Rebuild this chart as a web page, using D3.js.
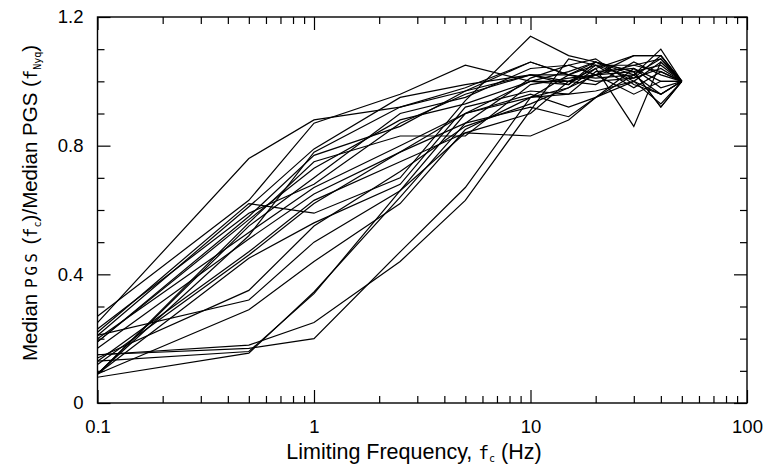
<!DOCTYPE html>
<html>
<head>
<meta charset="utf-8">
<script src="https://cdn.jsdelivr.net/npm/d3@7"></script>
<style>
	body { margin: 0; background: #fff; }
	svg { display: block; }
	text { font-family: "Liberation Sans", Arial, sans-serif; fill: #000; }
	.mono { font-family: "DejaVu Sans Mono", monospace; }
</style>
</head>
<body>
<svg id="chart" width="765" height="467"></svg>
<script>
"use strict";

// limiting frequencies (Hz) where every curve has a point
var freqs = [0.1, 0.5, 1, 2.5, 5, 10, 15, 20, 30, 40, 50];

// one ratio per frequency
var s01 = [0.25, 0.76, 0.88, 0.92, 0.97, 1.02, 1.02, 1.05, 0.98, 1.03, 1.00];
var s02 = [0.27, 0.63, 0.87, 0.96, 1.05, 1.00, 0.99, 1.06, 1.00, 0.96, 1.00];
var s03 = [0.22, 0.62, 0.59, 0.70, 0.94, 1.14, 1.08, 1.06, 1.03, 0.92, 1.00];
var s04 = [0.21, 0.61, 0.79, 0.95, 0.99, 1.02, 1.00, 1.04, 1.08, 1.08, 1.00];
var s05 = [0.19, 0.58, 0.77, 0.86, 0.97, 1.06, 1.02, 1.06, 1.02, 1.10, 1.00];
var s06 = [0.09, 0.56, 0.75, 0.83, 0.83, 0.99, 1.01, 1.02, 1.05, 1.07, 1.00];
var s07 = [0.09, 0.55, 0.70, 0.90, 0.95, 1.04, 1.05, 1.07, 0.99, 0.96, 1.00];
var s08 = [0.20, 0.53, 0.67, 0.80, 0.90, 0.95, 0.98, 1.02, 1.08, 1.08, 1.00];
var s09 = [0.17, 0.51, 0.65, 0.78, 0.87, 0.92, 0.89, 0.95, 1.02, 0.96, 1.00];
var s10 = [0.13, 0.47, 0.63, 0.75, 0.84, 0.83, 0.88, 0.95, 1.04, 1.00, 1.00];
var s11 = [0.09, 0.45, 0.56, 0.68, 0.92, 0.97, 0.96, 1.03, 1.04, 0.98, 1.00];
var s12 = [0.14, 0.35, 0.55, 0.72, 0.86, 0.93, 0.98, 1.04, 0.86, 1.06, 1.00];
var s13 = [0.21, 0.32, 0.50, 0.66, 0.84, 0.90, 1.00, 1.02, 1.03, 0.92, 1.00];
var s14 = [0.09, 0.29, 0.44, 0.62, 0.85, 0.95, 0.96, 0.97, 1.00, 1.06, 1.00];
var s15 = [0.15, 0.18, 0.25, 0.44, 0.63, 0.91, 1.07, 1.05, 1.01, 1.08, 1.00];
var s16 = [0.15, 0.17, 0.20, 0.47, 0.67, 0.95, 1.02, 1.00, 1.01, 1.04, 1.00];
var s17 = [0.13, 0.16, 0.34, 0.66, 0.90, 1.00, 1.00, 0.99, 1.06, 1.02, 1.00];
var s18 = [0.08, 0.155, 0.345, 0.64, 0.87, 1.01, 1.05, 1.02, 0.96, 1.00, 1.00];
var s19 = [0.23, 0.59, 0.68, 0.87, 0.96, 1.02, 0.99, 1.05, 1.05, 1.03, 1.00];
var s20 = [0.12, 0.46, 0.62, 0.78, 0.90, 0.96, 0.92, 0.95, 1.00, 0.93, 1.00];
var s21 = [0.09, 0.52, 0.78, 0.92, 0.98, 1.06, 1.02, 1.01, 1.02, 1.07, 1.00];
var s22 = [0.19, 0.57, 0.73, 0.88, 0.93, 1.00, 1.03, 1.06, 1.03, 1.05, 1.00];

var series = [s01,s02,s03,s04,s05,s06,s07,s08,s09,s10,s11,s12,s13,s14,s15,s16,s17,s18,s19,s20,s21,s22];

var xMajor = [0.1, 1, 10, 100];
var yMajor = [0, 0.4, 0.8, 1.2];
var yMinor = [0.1, 0.2, 0.3, 0.5, 0.6, 0.7, 0.9, 1.0, 1.1];

var padL = 97.5, padR = 747, padT = 17, padB = 403;
var bigTick = 13, smallTick = 7;

var svg = d3.select("#chart");

var x = d3.scaleLog().domain([0.1, 100]).range([padL, padR]);
var y = d3.scaleLinear().domain([0, 1.2]).range([padB, padT]);

// log minor ticks 2..9 in every decade
var xMinor = [];
[0.1, 1, 10].forEach(function(d){
	for (var k=2; k<10; k++) { xMinor.push(+(d*k).toPrecision(3)); }
});

// curves
var line = d3.line()
	.x(function(d,i){ return x(freqs[i]); })
	.y(function(d){ return y(d); });

svg.append("g")
	.attr("fill","none")
	.attr("stroke","#000")
	.attr("stroke-width",1.2)
	.attr("stroke-linejoin","miter")
	.selectAll("path")
	.data(series)
	.enter().append("path")
	.attr("d", line);

// frame
svg.append("rect")
	.attr("x",padL).attr("y",padT)
	.attr("width",padR-padL).attr("height",padB-padT)
	.attr("fill","none")
	.attr("stroke","#000")
	.attr("stroke-width",1.4);

function tidy(g) {
	g.select(".domain").remove();
	g.selectAll(".tick line").attr("stroke","#000").attr("stroke-width",1.2);
	g.selectAll(".tick text").attr("font-size",18.5).attr("font-family","Liberation Sans, Arial, sans-serif");
}

// bottom axis, ticks pointing inward
svg.append("g").attr("transform","translate(0,"+padB+")")
	.call(d3.axisBottom(x).tickValues(xMajor).tickFormat(d3.format("~g")).tickSize(-bigTick).tickPadding(17))
	.call(tidy);
svg.append("g").attr("transform","translate(0,"+padB+")")
	.call(d3.axisBottom(x).tickValues(xMinor).tickFormat("").tickSize(-smallTick))
	.call(tidy);
// top axis
svg.append("g").attr("transform","translate(0,"+padT+")")
	.call(d3.axisTop(x).tickValues(xMajor).tickFormat("").tickSize(-bigTick))
	.call(tidy);
svg.append("g").attr("transform","translate(0,"+padT+")")
	.call(d3.axisTop(x).tickValues(xMinor).tickFormat("").tickSize(-smallTick))
	.call(tidy);
// left axis
svg.append("g").attr("transform","translate("+padL+",0)")
	.call(d3.axisLeft(y).tickValues(yMajor).tickFormat(d3.format("~g")).tickSize(-bigTick).tickPadding(14))
	.call(tidy);
svg.append("g").attr("transform","translate("+padL+",0)")
	.call(d3.axisLeft(y).tickValues(yMinor).tickFormat("").tickSize(-smallTick))
	.call(tidy);
// right axis
svg.append("g").attr("transform","translate("+padR+",0)")
	.call(d3.axisRight(y).tickValues(yMajor).tickFormat("").tickSize(-bigTick))
	.call(tidy);
svg.append("g").attr("transform","translate("+padR+",0)")
	.call(d3.axisRight(y).tickValues(yMinor).tickFormat("").tickSize(-smallTick))
	.call(tidy);

// x title
var xt = svg.append("text")
	.attr("x",414).attr("y",459)
	.attr("text-anchor","middle")
	.attr("font-size",21.5);
xt.append("tspan").text("Limiting Frequency, ");
xt.append("tspan").attr("class","mono").attr("font-size",18).text("f");
xt.append("tspan").attr("class","mono").attr("font-size",10).attr("dy",3).text("c");
xt.append("tspan").attr("dy",-3).text(" (Hz)");

// y title
var yt = svg.append("text")
	.attr("transform","translate(37,203) rotate(-90)")
	.attr("text-anchor","middle")
	.attr("font-size",20.5);
yt.append("tspan").text("Median ");
yt.append("tspan").attr("class","mono").attr("font-size",16).attr("letter-spacing",3).text("PGS");
yt.append("tspan").text(" (");
yt.append("tspan").attr("class","mono").attr("font-size",17).text("f");
yt.append("tspan").attr("class","mono").attr("font-size",10).attr("dy",4).text("c");
yt.append("tspan").attr("dy",-4).text(")/Median PGS (");
yt.append("tspan").attr("class","mono").attr("font-size",17).text("f");
yt.append("tspan").attr("class","mono").attr("font-size",10).attr("dy",4).text("Nyq");
yt.append("tspan").attr("dy",-4).text(")");
</script>
</body>
</html>
